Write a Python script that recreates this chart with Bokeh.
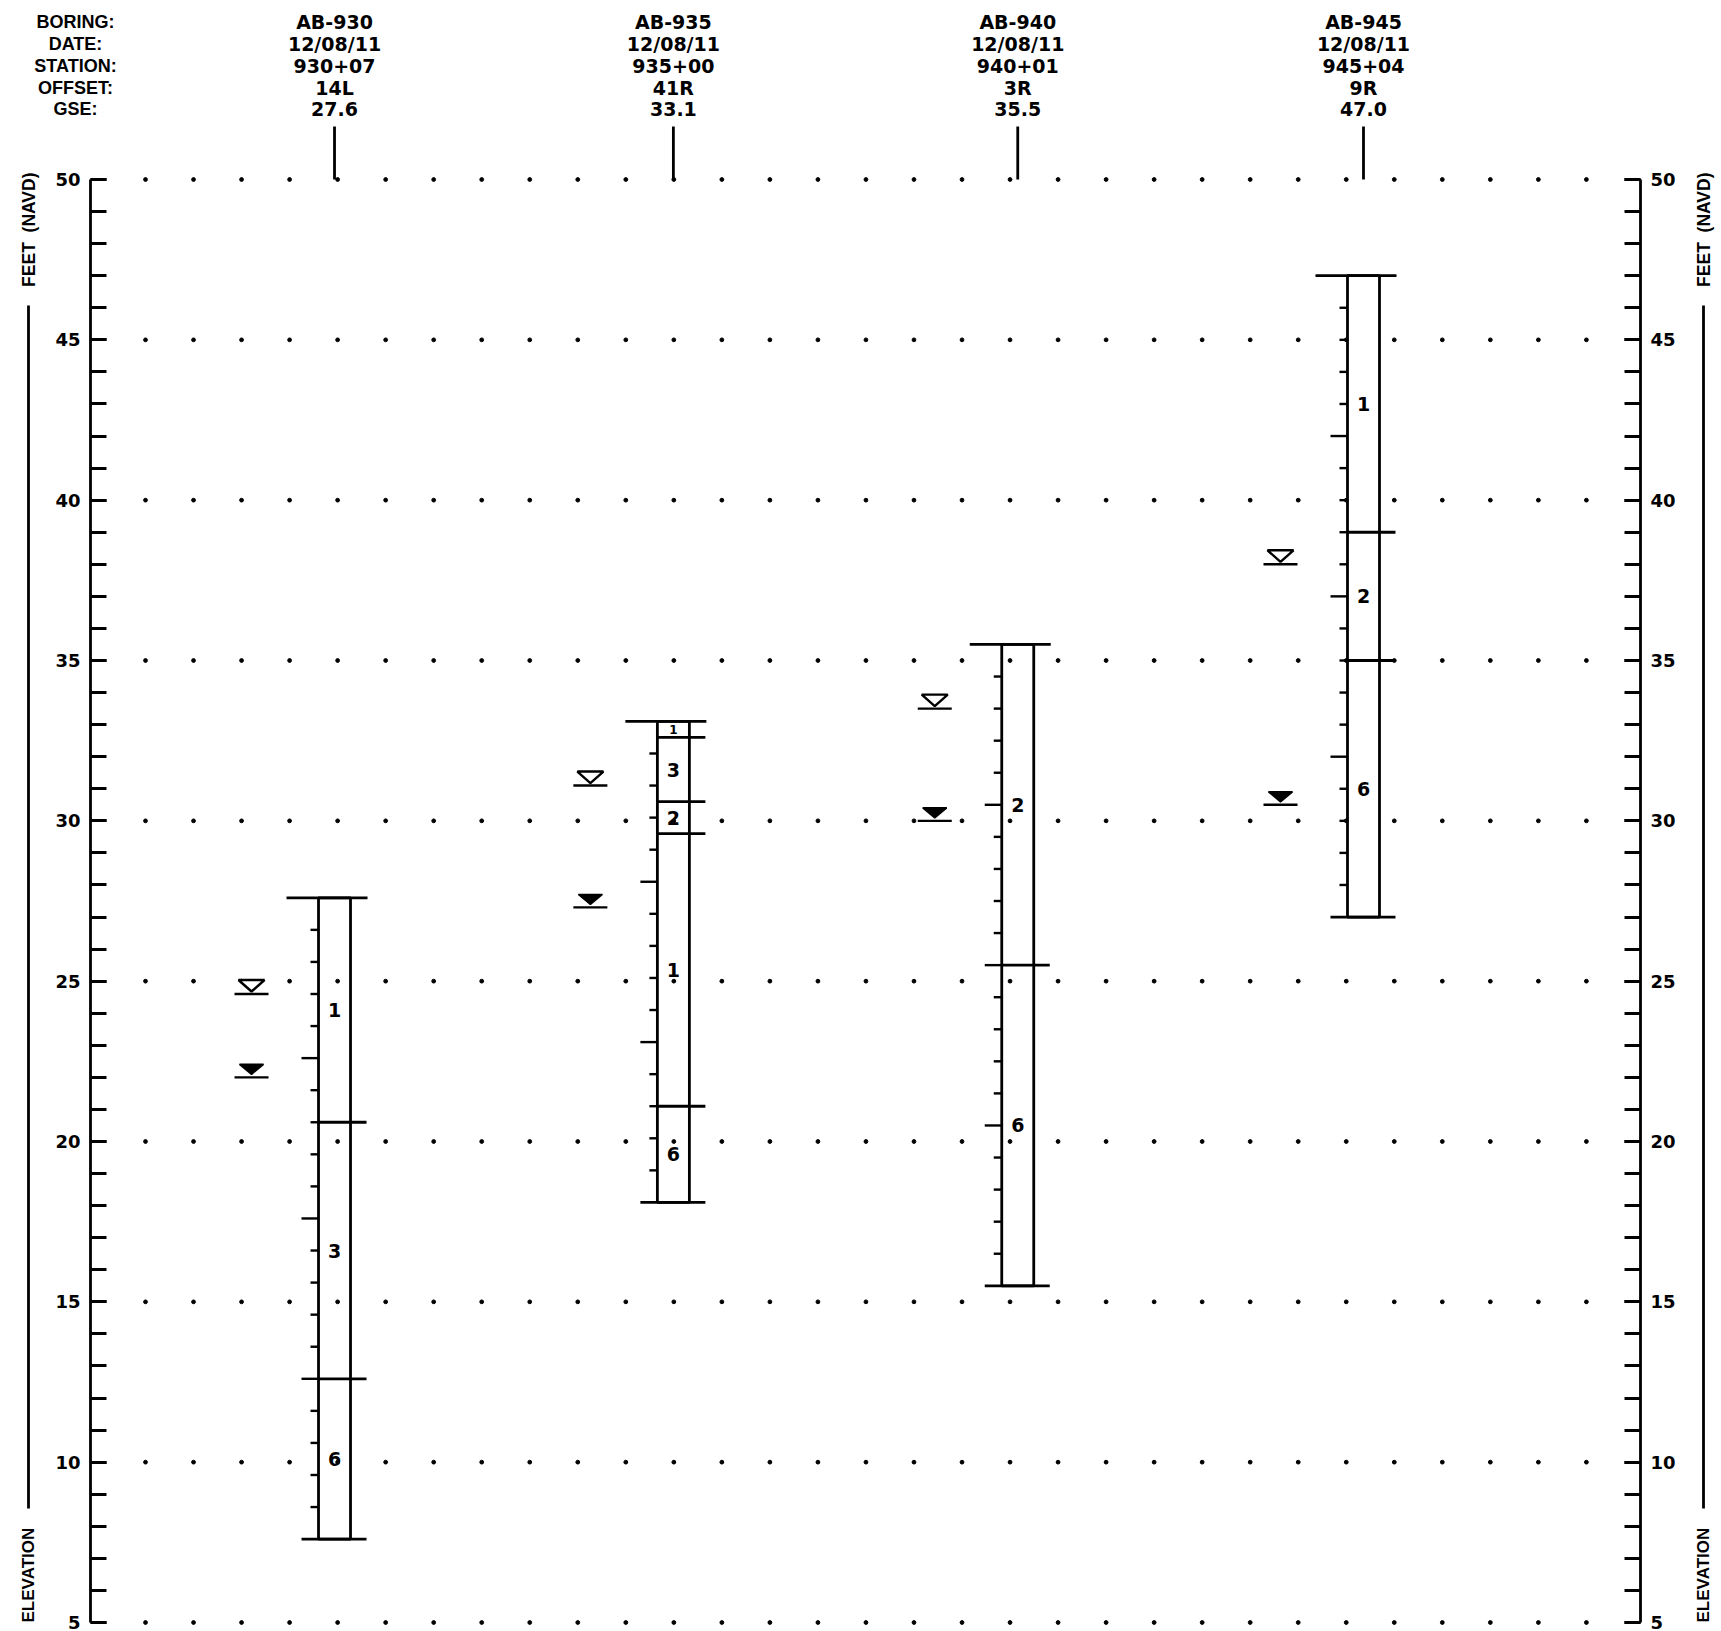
import numpy as np
from bokeh.plotting import figure
from bokeh.models import Range1d, LinearAxis, SingleIntervalTicker, ColumnDataSource
from bokeh.core.properties import value
from bokeh.embed import file_html
from bokeh.resources import INLINE

# ---------------- data ----------------
borings = ["AB-930", "AB-935", "AB-940", "AB-945"]
dates = ["12/08/11", "12/08/11", "12/08/11", "12/08/11"]
stations = ["930+07", "935+00", "940+01", "945+04"]
offsets = ["14L", "41R", "3R", "9R"]
gse = [27.6, 33.1, 35.5, 47.0]

# layer boundary elevations (top -> bottom) and soil numbers per boring
layer_bounds = [
    [27.6, 20.6, 12.6, 7.6],
    [33.1, 32.6, 30.6, 29.6, 21.1, 18.1],
    [35.5, 25.5, 15.5],
    [47.0, 39.0, 35.0, 27.0],
]
layer_soils = [
    ["1", "3", "6"],
    ["1", "3", "2", "1", "6"],
    ["2", "6"],
    ["1", "2", "6"],
]
# groundwater: open triangle (first encountered), filled triangle (stabilized)
wl_open = [24.6, 31.1, 33.5, 38.0]
wl_filled = [22.0, 27.3, 30.0, 30.5]

header_labels = ["BORING:", "DATE:", "STATION:", "OFFSET:", "GSE:"]
elev_min, elev_max, elev_step = 5, 50, 5
axis_title_bottom = "ELEVATION"
axis_title_top = "FEET\u00a0\u00a0(NAVD)"

# ---------------- geometry ----------------
station_ft = [int(s.replace("+", "")) for s in stations]
W, H = 1716, 1630
PXX = 0.687361                   # px per foot of station
PXY = 1443 / 45.0                # px per foot of elevation
X0 = 92652 - 90 / PXX
X1 = X0 + W / PXX
Y1 = elev_max + 179 / PXY
Y0 = Y1 - H / PXY


def dx(px):
    return px / PXX


def dy(px):
    return px / PXY


def xpage(pg):
    return X0 + pg / PXX


def ypage(pg):
    return Y1 - pg / PXY


p = figure(width=W, height=H, x_range=Range1d(X0, X1), y_range=Range1d(Y0, Y1),
           output_backend="svg", toolbar_location=None,
           x_axis_location=None, y_axis_location=None,
           min_border_left=0, min_border_right=0, min_border_top=0, min_border_bottom=0)
p.outline_line_color = None
p.xgrid.visible = False
p.ygrid.visible = False
p.background_fill_color = "white"

LW = 2.8

# elevation axes (fixed at the frame positions of the section)
for side, pgx in (("left", 90), ("right", 1640)):
    ax = LinearAxis(ticker=SingleIntervalTicker(interval=elev_step, num_minor_ticks=5),
                    bounds=(elev_min, elev_max), fixed_location=xpage(pgx))
    ax.major_tick_in = 16
    ax.major_tick_out = 0
    ax.minor_tick_in = 16
    ax.minor_tick_out = 0
    ax.axis_line_width = LW
    ax.major_tick_line_width = LW
    ax.minor_tick_line_width = LW
    ax.major_label_standoff = 10
    ax.major_label_text_font = "DejaVu Sans"
    ax.major_label_text_font_style = "bold"
    ax.major_label_text_font_size = "18px"
    ax.major_label_text_color = "black"
    p.add_layout(ax, side)

# dotted grid
gx0 = xpage(145)
gstep = dx(48.03)
grid_x = [gx0 + k * gstep for k in range(31)]
grid_y = list(range(elev_min, elev_max + 1, elev_step))
GX, GY = np.meshgrid(grid_x, grid_y)
p.scatter(GX.ravel(), GY.ravel(), size=3.8, color="black")

# axis titles
for pgx in (28, 1703):
    xa = xpage(pgx)
    p.text(x=[xa], y=[elev_min], text=[axis_title_bottom], angle=np.pi / 2, text_align="left",
           text_baseline="middle", text_font=value("Liberation Sans"), text_font_style="bold",
           text_font_size="17px", text_color="black")
    p.text(x=[xa], y=[ypage(172)], text=[axis_title_top], angle=np.pi / 2, text_align="right",
           text_baseline="middle", text_font=value("Liberation Sans"), text_font_style="bold",
           text_font_size="17.5px", text_color="black")
    p.segment(x0=[xa], y0=[ypage(305)], x1=[xa], y1=[ypage(1508)], line_width=LW, color="black")

# header rows
row_pages = [21, 43, 65, 87, 108]
row_y = [ypage(r) for r in row_pages]
p.text(x=[xpage(75)] * len(header_labels), y=row_y, text=header_labels, text_align="center",
       text_baseline="middle", text_font=value("Liberation Sans"), text_font_style="bold",
       text_font_size="18px", text_color="black")

hx, hy, ht = [], [], []
for i, c in enumerate(station_ft):
    vals = [borings[i], dates[i], stations[i], offsets[i], f"{gse[i]:.1f}"]
    for v, yy in zip(vals, row_y):
        hx.append(c); hy.append(yy); ht.append(v)
p.text(x=hx, y=hy, text=ht, text_align="center", text_baseline="middle",
       text_font=value("DejaVu Sans"), text_font_style="bold", text_font_size="19px", text_color="black")

# boring top markers
p.segment(x0=station_ft, y0=[elev_max] * 4, x1=station_ft, y1=[ypage(126)] * 4, line_width=LW, color="black")

# boring columns
HW = 16
for i, c in enumerate(station_ft):
    b = layer_bounds[i]
    top, bot = b[0], b[-1]
    p.quad(left=c - dx(HW), right=c + dx(HW), top=top, bottom=bot, fill_alpha=0,
           line_color="black", line_width=LW)
    # top cap and bottom line
    p.segment(x0=[c - dx(48), c - dx(33)], y0=[top, bot], x1=[c + dx(33), c + dx(32)], y1=[top, bot],
              line_width=LW, color="black")
    # interior boundaries
    inner = b[1:-1]
    if inner:
        p.segment(x0=[c - dx(HW)] * len(inner), y0=inner, x1=[c + dx(32)] * len(inner), y1=inner,
                  line_width=LW, color="black")
    # depth ticks every foot, longer every 5 ft
    depth = top - bot
    n = int(np.floor(depth - 1e-6))
    ds = list(range(1, n + 1))
    ty = [top - d for d in ds]
    tx0 = [c - dx(HW) - dx(17 if d % 5 == 0 else 8) for d in ds]
    p.segment(x0=tx0, y0=ty, x1=[c - dx(HW)] * len(ds), y1=ty, line_width=2.4, color="black")
    # soil labels
    mids = [(b[k] + b[k + 1]) / 2 for k in range(len(b) - 1)]
    thick = [b[k] - b[k + 1] for k in range(len(b) - 1)]
    sizes = ["12px" if t < 1 else "19px" for t in thick]
    src = ColumnDataSource(dict(x=[c] * len(mids), y=mids, t=layer_soils[i], s=sizes))
    p.text(x="x", y="y", text="t", text_font_size="s", source=src, text_align="center",
           text_baseline="middle", text_font=value("DejaVu Sans"), text_font_style="bold",
           text_color="black")

# groundwater symbols
xs = [c - dx(83) for c in station_ft]
for wl_list, filled in ((wl_open, False), (wl_filled, True)):
    p.segment(x0=[x - dx(17) for x in xs], y0=wl_list, x1=[x + dx(17) for x in xs], y1=wl_list,
              line_width=2.4, color="black")
    hwid = 12 if filled else 13
    ht_ = 13 if filled else 14
    ap = 3 if filled else 2.5
    pxs = [[x - dx(hwid), x + dx(hwid), x] for x in xs]
    pys = [[w + dy(ht_), w + dy(ht_), w + dy(ap)] for w in wl_list]
    p.patches(pxs, pys, fill_color="black" if filled else "white", line_color="black",
              line_width=1.5 if filled else 2.4)

open("out.html", "w").write(file_html(p, INLINE))
